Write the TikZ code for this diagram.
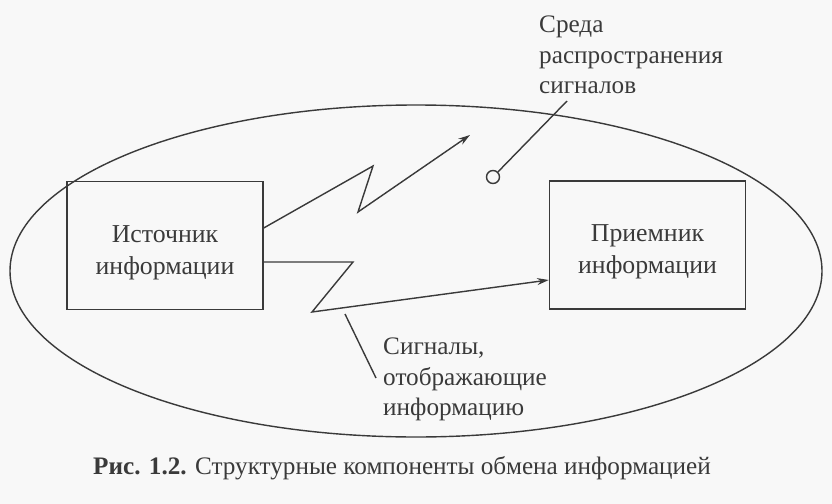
\documentclass[tikz,border=0pt]{standalone}
\usepackage{fontspec}
\setmainfont{Liberation Serif}
\usetikzlibrary{arrows.meta}
\definecolor{ink}{HTML}{3A3A3A}
\definecolor{paper}{HTML}{F8F8F8}
\begin{document}
\begin{tikzpicture}[x=0.03cm,y=-0.03cm,
  line/.style={draw=ink,line width=1.2pt},
  boxnode/.style={draw=ink,line width=1.2pt,minimum width=196*0.03cm,minimum height=128*0.03cm,inner sep=0pt},
  boxtext/.style={align=center,text=ink,font=\fontsize{22}{27}\selectfont,inner sep=0pt},
  lbl/.style={align=left,anchor=north west,text=ink,font=\fontsize{21.5}{25.8}\selectfont,inner sep=0pt},
  arr/.style={line,-{Stealth[length=10pt,width=6pt]}}]
\fill[paper] (0,0) rectangle (832,504);
\useasboundingbox (0,0) rectangle (832,504);
\draw[line] (416,271) ellipse[x radius=406, y radius=166];
\node[boxnode] (src) at (165,245.5) {};
\node[boxtext] (srctext) at ([yshift=-7*0.03cm]src.center) {Источник\\информации};
\node[boxnode] (dst) at (647.5,245) {};
\node[boxtext] (dsttext) at ([yshift=-7*0.03cm]dst.center) {Приемник\\информации};
\coordinate (u1) at (373,166);
\coordinate (u2) at (358,212);
\coordinate (utip) at (470,135);
\draw[arr] (src.east |- 0,228) -- (u1) -- (u2) -- (utip);
\coordinate (l1) at (353,262);
\coordinate (l2) at (312,312);
\draw[arr] (src.east |- 0,262) -- (l1) -- (l2) -- (dst.west |- 0,280);
\node[draw=ink,line width=1.2pt,circle,minimum size=13*0.03cm,inner sep=0pt] (med) at (493,177) {};
\coordinate (medend) at (567,101);
\draw[line] (med) -- (medend);
\node[lbl] (medlbl) at (539,16) {Среда\\распространения\\сигналов};
\coordinate (sig1) at (345,314);
\coordinate (sig2) at (376,378);
\draw[line] (sig1) -- (sig2);
\node[lbl] (siglbl) at (383,338) {Сигналы,\\отображающие\\информацию};
\node[text=ink,font=\fontsize{21.5}{24}\selectfont,inner sep=0pt] (cap) at (402,468) {\textbf{Рис. 1.2.} Структурные компоненты обмена информацией};
\end{tikzpicture}
\end{document}
